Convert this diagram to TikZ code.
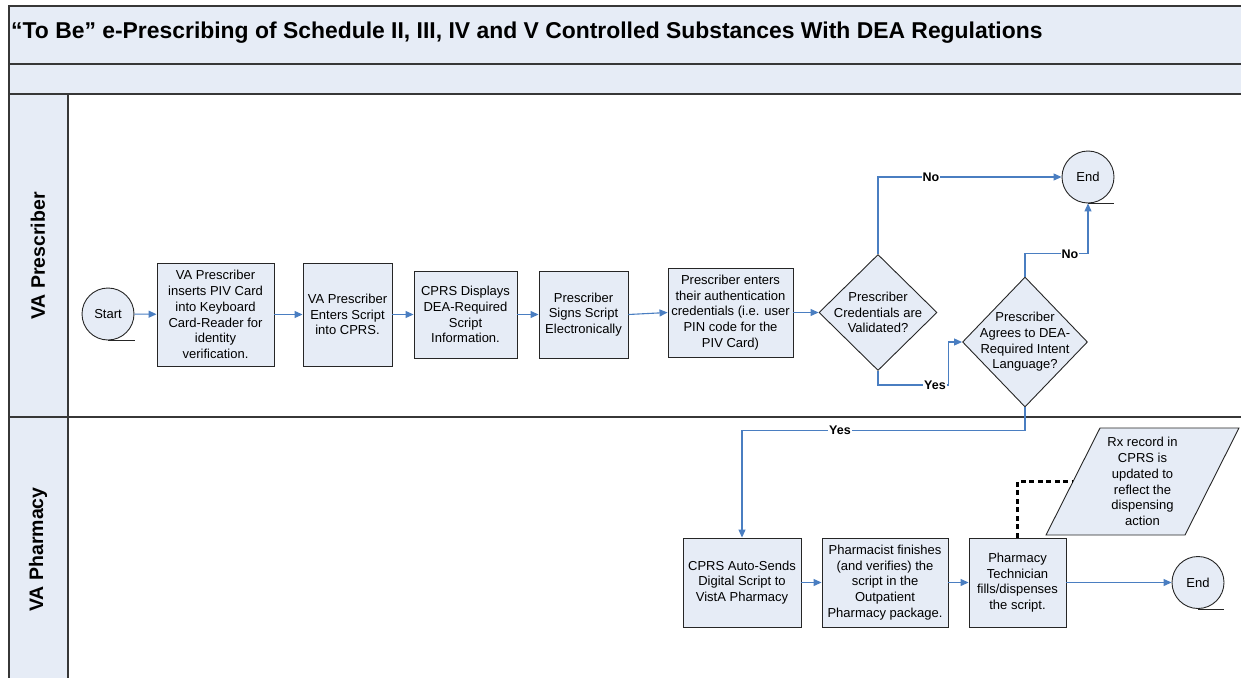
\documentclass[tikz,border=0pt]{standalone}
\usepackage{fontspec}
\setmainfont{Liberation Sans}
\usetikzlibrary{arrows.meta,shapes.geometric,calc}
\definecolor{lightfill}{RGB}{230,236,246}
\definecolor{flowblue}{RGB}{74,126,193}
\definecolor{framegray}{RGB}{55,55,55}
\newcommand\bxfont{\fontsize{13}{15.7}\selectfont}
\newcommand\lblfont{\bfseries\fontsize{12.5}{14}\selectfont}
\newcommand\lanefont{\bfseries\fontsize{19.5}{22}\selectfont}
\newcommand\titlefont{\bfseries\fontsize{22.9}{26}\selectfont}
\begin{document}
\begin{tikzpicture}[x=1pt,y=-1pt,
  box/.style={draw=black!85, line width=0.9pt, fill=lightfill, inner sep=0pt, align=center, font=\bxfont},
  term/.style={circle, draw=black!85, line width=0.9pt, fill=lightfill, minimum size=52pt, inner sep=0pt, font=\bxfont},
  decision/.style={diamond, draw=black!85, line width=0.9pt, fill=lightfill, inner sep=0pt},
  dtext/.style={align=center, font=\bxfont, inner sep=0pt},
  flow/.style={draw=flowblue, line width=1.1pt, -{Triangle[length=8pt,width=7pt]}},
  lbl/.style={fill=white, inner sep=1pt, font=\lblfont},
  tick/.style={draw=black!85, line width=0.9pt},
  dotted link/.style={draw=black, line width=2.6pt, dash pattern=on 5pt off 3.5pt},
  lane/.style={fill=lightfill, draw=framegray, line width=1.3pt}
]
\clip (0,0) rectangle (1241,677);
% frame
\path[lane] (9,6) rectangle (1260,64);
\path[lane] (9,64) rectangle (1260,94);
\path[lane] (9,94) rectangle (68,700);
\draw[draw=framegray, line width=1.3pt] (68,417) -- (1260,417);
\draw[draw=framegray, line width=1.3pt] (9,417) -- (68,417);
\node[anchor=west, font=\titlefont, inner sep=0pt] (title) at (11,33) {“To Be” e-Prescribing of Schedule II, III, IV and V Controlled Substances With DEA Regulations};
\node[rotate=90, font=\lanefont] (lane1) at (38,256) {VA Prescriber};
\node[rotate=90, font=\lanefont] (lane2) at (38,549.5) {VA Pharmacy};

% prescriber lane
\node[term] (start) at (108,314) {Start};
\node[box, minimum width=117pt, minimum height=103pt] (b1) at (215.5,314.5) {VA Prescriber\\inserts PIV Card\\into Keyboard\\Card-Reader for\\identity\\verification.};
\node[box, minimum width=89pt, minimum height=103pt] (b2) at (347.5,314.5) {VA Prescriber\\Enters Script\\into CPRS.};
\node[box, minimum width=103pt, minimum height=87pt] (b3) at (465.5,314.5) {CPRS Displays\\DEA-Required\\Script\\Information.};
\node[box, minimum width=89pt, minimum height=87pt] (b4) at (583.5,314.5) {Prescriber\\Signs Script\\Electronically};
\node[box, minimum width=125pt, minimum height=89pt] (b5) at (730.5,312.5) {Prescriber enters\\their authentication\\credentials (i.e. user\\PIN code for the\\PIV Card)};
\node[decision, minimum width=118pt, minimum height=116pt,
  label={[dtext]center:{Prescriber\\Credentials are\\Validated?}}] (d1) at (878,312.5) {};
\node[decision, minimum width=125pt, minimum height=130pt,
  label={[dtext]center:{Prescriber\\Agrees to DEA-\\Required Intent\\Language?}}] (d2) at (1025,342) {};
\node[term] (end1) at (1088,177) {End};

% pharmacy lane
\node[box, minimum width=118pt, minimum height=89pt] (b6) at (742,582.5) {CPRS Auto-Sends\\Digital Script to\\VistA Pharmacy};
\node[box, minimum width=126pt, minimum height=89pt] (b7) at (885,582.5) {Pharmacist finishes\\(and verifies) the\\script in the\\Outpatient\\Pharmacy package.};
\node[box, minimum width=97pt, minimum height=89pt] (b8) at (1017.5,582.5) {Pharmacy\\Technician\\fills/dispenses\\the script.};
\node[term] (end2) at (1198,582.5) {End};
\node[trapezium, trapezium left angle=63.2, trapezium right angle=116.8, trapezium stretches=true,
  minimum width=193pt, minimum height=107pt, draw=black!85, line width=0.9pt, fill=lightfill,
  inner sep=0pt, align=center, font=\bxfont] (rx) at (1142.5,481.5) {Rx record in\\CPRS is\\updated to\\reflect the\\dispensing\\action};

% terminator ticks
\draw[tick] (start.south) -- ++(27,0);
\draw[tick] (end1.south) -- ++(26,0);
\draw[tick] (end2.south) -- ++(26,0);

% connectors
\draw[flow] (start) -- (b1);
\draw[flow] (b1) -- (b2);
\draw[flow] (b2) -- (b3);
\draw[flow] (b3) -- (b4);
\draw[flow] (b4.east) -- (b5.west);
\draw[flow] (b5) -- (d1);
\draw[flow] (d1.north) |- (end1.west);
\draw[flow] (d1.south) -- ++(0,14) -| ($(d2.west)+(-14,0)$) -- (d2.west);
\draw[flow] (d2.north) -- ++(0,-23) -| (end1.south);
\draw[flow] (d2.south) -- ++(0,23) -| (b6.north);
\draw[flow] (b6) -- (b7);
\draw[flow] (b7) -- (b8);
\draw[flow] (b8) -- (end2);
\draw[dotted link] (b8.north) |- (rx.west);

% branch labels
\node[lbl] (no1) at (931,177) {No};
\node[lbl] (yes1) at (935,385.5) {Yes};
\node[lbl] (no2) at (1070,254) {No};
\node[lbl] (yes2) at (840,430) {Yes};
\end{tikzpicture}
\end{document}
